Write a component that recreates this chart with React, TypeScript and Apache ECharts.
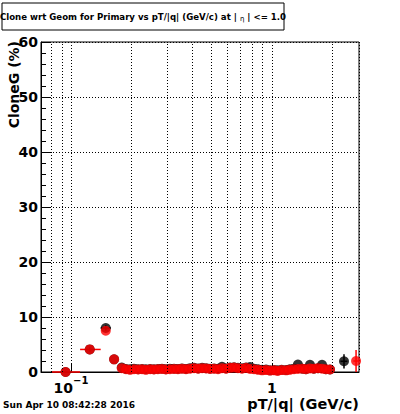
import React, { useEffect, useRef } from "react";
import * as echarts from "echarts";

// bin centres in pT/|q| (GeV/c)
const pT = [
  0.094, 0.124, 0.149, 0.164, 0.179,
  0.188, 0.197, 0.206, 0.216, 0.226, 0.236, 0.248, 0.259, 0.271, 0.284,
  0.297, 0.311, 0.326, 0.341, 0.357, 0.374, 0.392, 0.41, 0.43, 0.45,
  0.471, 0.493, 0.516, 0.54, 0.565, 0.592, 0.62, 0.649, 0.679, 0.711,
  0.745, 0.78, 0.816, 0.855, 0.895, 0.937, 0.981, 1.03, 1.07, 1.12,
  1.18, 1.23, 1.29, 1.35, 1.42, 1.48, 1.55, 1.62, 1.7, 1.78,
  1.86, 1.95, 2.29, 2.63,
];

// CloneG (%) — red histogram (drawn on top)
const redY: (number | null)[] = [
  0, 4.1, 7.5, 2.3, 0.7,
  0.5, 0.4, 0.5, 0.45, 0.5, 0.4, 0.5, 0.45, 0.5, 0.55,
  0.45, 0.5, 0.55, 0.5, 0.6, 0.5, 0.6, 0.7, 0.6, 0.7,
  0.65, 0.55, 0.6, 0.5, 0.7, 0.6, 0.75, 0.8, 0.7, 0.6,
  0.75, 0.55, 0.5, 0.4, 0.3, 0.35, 0.25, 0.3, 0.2, 0.35,
  0.3, 0.4, 0.5, 0.55, 0.6, 0.5, 0.65, 0.6, 0.7, 0.6,
  0.5, 0.45, null, 2.0,
];

// CloneG (%) — black histogram
const blackY: (number | null)[] = [
  0, 4.1, 8.0, 2.3, 0.8,
  0.55, 0.5, 0.6, 0.5, 0.55, 0.5, 0.55, 0.5, 0.55, 0.6,
  0.5, 0.6, 0.6, 0.55, 0.65, 0.55, 0.7, 0.75, 0.65, 0.75,
  0.7, 0.6, 0.65, 0.6, 0.95, 0.65, 0.8, 0.85, 0.75, 0.7,
  0.8, 0.9, 0.6, 0.5, 0.4, 0.45, 0.3, 0.35, 0.3, 0.4,
  0.35, 0.5, 0.6, 1.35, 0.6, 0.5, 1.3, 0.6, 0.7, 1.3,
  0.5, 0.45, 1.95, null,
];

// error bars: [pT, value, bin low edge, bin high edge, value error]
const redErr = [
  [0.094, 0, 0.0805, 0.111, 0.3],
  [0.124, 4.1, 0.111, 0.1406, 0.4],
  [2.63, 2.0, 2.55, 2.72, 2.0],
];
const blackErr = [
  [0.149, 8.0, 0.1406, 0.158, 0.5],
  [2.29, 1.95, 2.2, 2.38, 1.3],
];

// axis ticks and grid
const xTickValues = [0.1, 1];
const xTickLabels = ["{b|10}{s|\u22121}", "{b|1}"];
const xMinorGrid = [0.08, 0.09, 0.2, 0.3, 0.4, 0.5, 0.6, 0.7, 0.8, 0.9, 2];
const yTicks = [0, 10, 20, 30, 40, 50, 60];

const FONT = "DejaVu Sans";

function errSeries(data: number[][], color: string) {
  return {
    type: "custom",
    data,
    encode: { x: 0, y: 1 },
    silent: true,
    renderItem: (_p: any, api: any) => {
      const x = api.value(0);
      const y = api.value(1);
      const xl = api.value(2);
      const xh = api.value(3);
      const ye = api.value(4);
      const a = api.coord([xl, y]);
      const b = api.coord([xh, y]);
      const c = api.coord([x, Math.max(0, y - ye)]);
      const d = api.coord([x, y + ye]);
      const style = { stroke: color, lineWidth: 1.5 };
      return {
        type: "group",
        children: [
          { type: "line", shape: { x1: a[0], y1: a[1], x2: b[0], y2: b[1] }, style },
          { type: "line", shape: { x1: c[0], y1: c[1], x2: d[0], y2: d[1] }, style },
        ],
      };
    },
  };
}

function points(ys: (number | null)[]) {
  const out: number[][] = [];
  pT.forEach((x, i) => {
    const y = ys[i];
    if (y !== null && y !== undefined) out.push([x, y]);
  });
  return out;
}

export default function App() {
  const ref = useRef<HTMLDivElement>(null);
  useEffect(() => {
    const chart = echarts.init(ref.current!, null, { renderer: "svg" });
    const option: any = {
      animation: false,
      backgroundColor: "#fff",
      grid: {
        left: 41,
        right: 41,
        top: 42,
        bottom: 42,
        show: true,
        borderColor: "#000",
        borderWidth: 1,
        backgroundColor: "transparent",
      },
      xAxis: {
        type: "log",
        logBase: 10,
        min: 0.0709,
        max: 2.72,
        axisLine: { show: true, lineStyle: { color: "#000", width: 1 } },
        axisTick: { show: true, inside: true, length: 9, lineStyle: { color: "#000" } },
        splitLine: { show: true, lineStyle: { color: "#000", type: [1, 2], width: 1 } },
        axisLabel: {
          showMinLabel: false,
          showMaxLabel: false,
          margin: 3,
          color: "#000",
          formatter: (v: number) => {
            const i = xTickValues.findIndex((t) => Math.abs(Math.log10(t) - Math.log10(v)) < 1e-6);
            return i >= 0 ? xTickLabels[i] : "";
          },
          rich: {
            b: { fontFamily: FONT, fontWeight: "bold", fontSize: 14, lineHeight: 12, color: "#000", padding: [6, 0, 0, 0], verticalAlign: "top" },
            s: { fontFamily: FONT, fontWeight: "bold", fontSize: 10, lineHeight: 8, verticalAlign: "top", color: "#000", padding: [0, 0, 10, 0] },
          },
        },
      },
      yAxis: {
        type: "value",
        min: yTicks[0],
        max: yTicks[yTicks.length - 1],
        interval: 10,
        axisLine: { show: true, lineStyle: { color: "#000", width: 1 } },
        axisTick: { show: true, inside: true, length: 9, lineStyle: { color: "#000" } },
        minorTick: { show: true, splitNumber: 5, length: 5, lineStyle: { color: "#000" } },
        splitLine: { show: true, lineStyle: { color: "#000", type: [1, 2], width: 1 } },
        axisLabel: {
          fontFamily: FONT,
          fontWeight: "bold",
          fontSize: 14,
          color: "#000",
          margin: 3,
        },
      },
      series: [
        {
          type: "scatter",
          data: [],
          silent: true,
          markLine: {
            silent: true,
            symbol: "none",
            label: { show: false },
            lineStyle: { color: "#000", type: [1, 2], width: 1 },
            data: xMinorGrid.map((v) => ({ xAxis: v })),
          },
        },
        errSeries(blackErr, "#000"),
        {
          type: "scatter",
          data: points(blackY),
          symbol: "circle",
          symbolSize: 10,
          itemStyle: { color: "#000" },
          silent: true,
        },
        errSeries(redErr, "#ff0000"),
        {
          type: "scatter",
          data: points(redY),
          symbol: "circle",
          symbolSize: 10,
          itemStyle: { color: "#ff0000" },
          silent: true,
        },
      ],
      graphic: [
        {
          type: "rect",
          shape: { x: 2, y: 3, width: 282, height: 27 },
          style: { fill: "#fff", stroke: "#000", lineWidth: 1 },
        },
        {
          type: "text",
          x: 143,
          y: 17,
          style: {
            text: "Clone wrt Geom for Primary vs pT/|q| (GeV/c) at | {e|\u03b7} | <= 1.0",
            fontFamily: FONT,
            fontWeight: "bold",
            fontSize: 8.6,
            fill: "#000",
            align: "center",
            verticalAlign: "middle",
            rich: {
              e: { fontFamily: FONT, fontSize: 7, fill: "#000", padding: [3, 0, 0, 0] },
            },
          },
        },
        {
          type: "text",
          x: 14,
          y: 41,
          rotation: Math.PI / 2,
          style: {
            text: "CloneG (%)",
            fontFamily: FONT,
            fontWeight: "bold",
            fontSize: 14,
            fill: "#000",
            align: "right",
            verticalAlign: "middle",
          },
        },
        {
          type: "text",
          x: 359,
          y: 404,
          style: {
            text: "pT/|q| (GeV/c)",
            fontFamily: FONT,
            fontWeight: "bold",
            fontSize: 14.5,
            fill: "#000",
            align: "right",
            verticalAlign: "middle",
          },
        },
        {
          type: "text",
          x: 3,
          y: 405,
          style: {
            text: "Sun Apr 10 08:42:28 2016",
            fontFamily: FONT,
            fontWeight: "bold",
            fontSize: 9,
            fill: "#000",
            align: "left",
            verticalAlign: "middle",
          },
        },
      ],
    };
    chart.setOption(option);
    return () => chart.dispose();
  }, []);
  return (
    <div
      ref={ref}
      style={{ position: "absolute", left: 0, top: 0, width: 400, height: 414 }}
    />
  );
}
